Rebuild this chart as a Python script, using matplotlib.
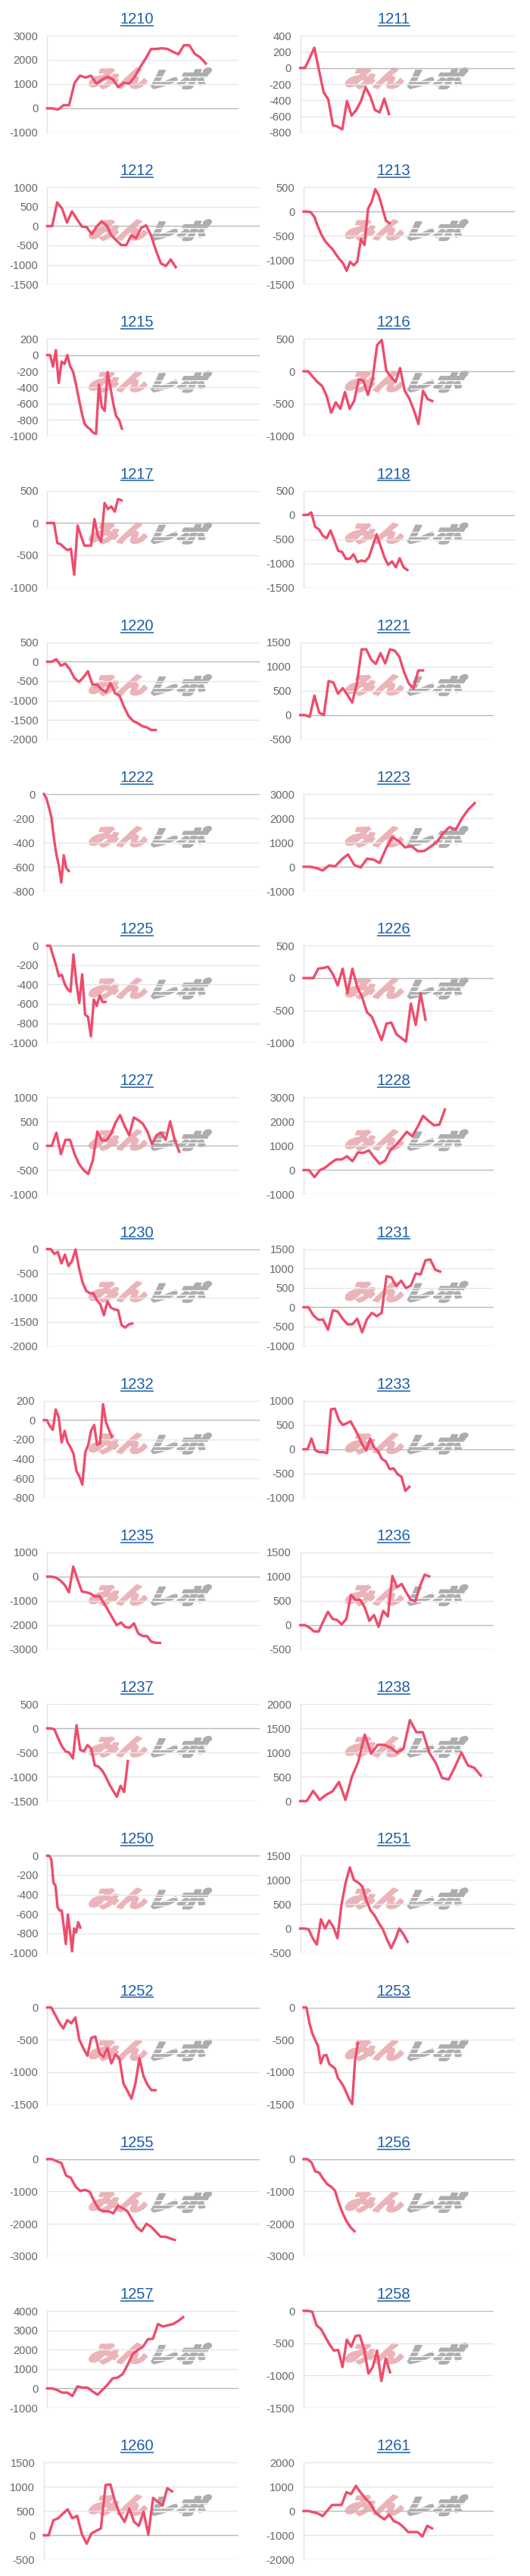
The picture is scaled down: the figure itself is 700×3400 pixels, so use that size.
"""Small-multiples of cumulative balance per machine number (1210-1261)."""
import matplotlib
matplotlib.use("Agg")
import matplotlib.pyplot as plt
from matplotlib.font_manager import FontProperties
from matplotlib.patches import PathPatch
from matplotlib.textpath import TextPath
from matplotlib.transforms import Affine2D

plt.rcParams["font.family"] = ["Liberation Sans", "DejaVu Sans"]
plt.rcParams["axes.unicode_minus"] = False

# ---- data -------------------------------------------------------------
titles = ["1210", "1211", "1212", "1213", "1215", "1216", "1217", "1218",
          "1220", "1221", "1222", "1223", "1225", "1226", "1227", "1228",
          "1230", "1231", "1232", "1233", "1235", "1236", "1237", "1238",
          "1250", "1251", "1252", "1253", "1255", "1256", "1257", "1258",
          "1260", "1261"]

v1210 = [0, 0, -50, 130, 130, 1050, 1350, 1270, 1350, 1020, 1180, 1300, 1200, 880, 1050,
         1020, 1300, 1700, 2050, 2450, 2450, 2480, 2450, 2330, 2230, 2600, 2600, 2250, 2100, 1850]
v1211 = [0, 0, 120, 250, -25, -300, -390, -710, -725, -760, -410, -590, -520, -410, -240,
         -350, -520, -550, -380, -570]
v1212 = [0, 0, 610, 450, 90, 380, 180, -10, -30, -210, -10, 120, 20, -240, -370, -490, -490,
         -240, -310, -50, 20, -240, -630, -960, -1030, -860, -1060]
v1213 = [0, 0, -15, -110, -310, -480, -610, -695, -770, -880, -980, -1065, -1220, -1040, -1110,
         -1030, -570, -690, 60, 200, 460, 330, 70, -190, -240]
v1215 = [0, 0, -140, 60, -345, -80, -110, 0, -140, -205, -360, -540, -710, -850, -890, -920,
         -960, -975, -365, -640, -690, -210, -400, -600, -755, -800, -910]
v1216 = [0, 0, -85, -165, -225, -380, -640, -480, -580, -320, -580, -460, -125, -145, -365,
         -125, 405, 485, 10, -85, -165, 50, -300, -420, -600, -815, -300, -430, -460]
v1217 = [0, 0, 0, -310, -330, -380, -420, -400, -800, -40, -200, -350, -350, -350, 60, -195,
         -290, 310, 215, 255, 175, 370, 350]
v1218 = [0, 0, 50, -245, -300, -430, -480, -320, -530, -740, -765, -905, -905, -815, -975,
         -940, -960, -870, -635, -400, -635, -870, -1030, -960, -1080, -895, -1080, -1135]
v1220 = [0, 0, 65, -100, -50, -195, -420, -520, -405, -245, -585, -585, -715, -780, -550,
         -810, -880, -1170, -1400, -1530, -1580, -1660, -1690, -1760, -1760]
v1221 = [0, 0, -35, 400, 50, 0, 700, 675, 440, 555, 415, 260, 650, 1355, 1355, 1145, 1055,
         1275, 1065, 1355, 1330, 1200, 885, 650, 545, 920, 920]
v1222 = [0, -35, -110, -190, -360, -495, -590, -730, -505, -610, -635]
v1223 = [0, 0, -50, -155, 50, 20, 300, 510, 75, -30, 330, 300, 155, 750, 1220, 1060, 800,
         850, 645, 645, 820, 1010, 1375, 1635, 1530, 2000, 2365, 2625]
v1225 = [0, 0, -105, -200, -315, -300, -395, -450, -475, -90, -380, -590, -295, -710, -735,
         -935, -555, -620, -515, -580, -580]
v1226 = [0, 0, 0, 145, 155, 175, 60, -115, 145, -235, 145, -140, -295, -530, -600, -780,
         -960, -705, -690, -865, -925, -985, -395, -725, -235, -645]
v1227 = [0, 0, 270, -170, 125, 125, -170, -375, -500, -580, -300, 295, 115, 115, 245, 480,
         635, 405, 220, 585, 530, 455, 295, 35, 220, 270, 125, 505, 115, -120]
v1228 = [0, 0, -290, 0, 105, 290, 440, 440, 570, 365, 730, 710, 815, 520, 260, 385, 830,
         1040, 1300, 1580, 1400, 1790, 2240, 2030, 1850, 1875, 2500]
v1230 = [0, 0, -100, -60, -295, -115, -350, -245, -10, -400, -690, -860, -910, -910, -1050,
         -1140, -1365, -1080, -1210, -1245, -1260, -1570, -1620, -1555, -1535]
v1231 = [0, 0, -210, -320, -320, -580, -80, -110, -295, -440, -440, -295, -645, -305, -145,
         -230, -145, 800, 770, 540, 685, 495, 560, 870, 845, 1210, 1230, 965, 920]
v1232 = [0, 0, -60, -100, 110, 30, -230, -110, -230, -280, -345, -525, -580, -665, -330,
         -255, -105, -50, -255, -240, 165, -20, -100, -175]
v1233 = [0, 0, 220, -25, -60, -60, -80, 825, 835, 605, 500, 535, 575, 430, 275, 90, -25, 220,
         35, -40, -200, -250, -410, -395, -515, -565, -860, -775]
v1235 = [0, 0, -40, -155, -335, -645, 415, -125, -615, -645, -700, -825, -800, -1065, -1375,
         -1690, -2000, -1895, -2075, -2105, -1925, -2345, -2450, -2450, -2680, -2730, -2730]
v1236 = [0, 0, -50, -130, -130, 80, 275, 130, 105, 15, 130, 625, 520, 520, 365, 90, 210, -35,
         295, 180, 1015, 780, 850, 675, 520, 495, 810, 1040, 1005]
v1237 = [0, 0, -25, -210, -370, -475, -500, -620, 65, -445, -475, -345, -420, -765, -790,
         -870, -1000, -1160, -1290, -1410, -1185, -1315, -675]
v1238 = [0, 0, 210, 25, 130, 200, 395, 25, 500, 815, 1370, 975, 1160, 1160, 1105, 1000, 1080,
         1670, 1420, 1420, 1000, 790, 475, 445, 710, 1000, 735, 685, 525]
v1250 = [0, 0, -40, -275, -310, -530, -565, -565, -725, -910, -605, -775, -985, -750, -790,
         -685, -740]
v1251 = [0, 0, -15, -200, -330, 190, 0, 165, 35, -200, 505, 950, 1260, 1000, 950, 870, 585,
         375, 270, 115, -15, -225, -405, -225, 0, -120, -275]
v1252 = [0, 0, -115, -235, -325, -195, -245, -155, -500, -630, -745, -470, -450, -705, -765,
         -630, -865, -725, -785, -1175, -1290, -1410, -1175, -785, -1060, -1195, -1280, -1280]
v1253 = [0, 0, -235, -395, -500, -590, -865, -745, -735, -875, -910, -945, -1090, -1150,
         -1220, -1320, -1420, -1495, -820, -550]
v1255 = [0, 0, -65, -120, -510, -575, -850, -985, -950, -1010, -1320, -1560, -1615, -1615,
         -1675, -1440, -1520, -1615, -1875, -2110, -2230, -2000, -2090, -2245, -2400, -2400,
         -2450, -2500]
v1256 = [0, 0, -100, -380, -420, -610, -770, -850, -970, -1360, -1675, -1930, -2110, -2230]
v1257 = [0, 0, -90, -220, -220, -390, 105, 40, 40, -155, -325, -65, 195, 520, 560, 740, 1235,
         1780, 1975, 2145, 2535, 2560, 3320, 3190, 3255, 3320, 3475, 3670]
v1258 = [0, 0, -15, -225, -280, -400, -520, -615, -605, -870, -445, -555, -390, -380, -595,
         -970, -870, -615, -1085, -735, -950]
v1260 = [0, 0, 310, 350, 445, 535, 350, 400, 25, -175, 35, 90, 140, 1035, 1050, 690, 430, 275,
         550, 275, 195, 485, 10, 770, 690, 610, 970, 905]
v1261 = [0, 0, -50, -100, -210, 20, 250, 250, 250, 775, 700, 1040, 760, 515, 315, -30, -210,
         -345, -155, -420, -500, -660, -870, -870, -870, -1050, -610, -715]

values = [v1210, v1211, v1212, v1213, v1215, v1216, v1217, v1218, v1220, v1221, v1222, v1223,
          v1225, v1226, v1227, v1228, v1230, v1231, v1232, v1233, v1235, v1236, v1237, v1238,
          v1250, v1251, v1252, v1253, v1255, v1256, v1257, v1258, v1260, v1261]

# number of x categories on each chart (data only fills the first part)
slots = [36, 47, 44, 60, 75, 47, 64, 56, 48, 42, 88, 31, 74, 40, 43, 36, 61, 40, 74, 55,
         50, 43, 59, 31, 104, 53, 54, 75, 46, 55, 39, 45, 42, 41]

y_lo = [-1000, -800, -1500, -1500, -1000, -1000, -1000, -1500, -2000, -500, -800, -1000,
        -1000, -1000, -1000, -1000, -2000, -1000, -800, -1000, -3000, -500, -1500, 0,
        -1000, -500, -1500, -1500, -3000, -3000, -1000, -1500, -500, -2000]
y_hi = [3000, 400, 1000, 500, 200, 500, 500, 500, 500, 1500, 0, 3000,
        0, 500, 1000, 3000, 0, 1500, 200, 1000, 1000, 1500, 500, 2000,
        0, 1500, 0, 0, 0, 0, 4000, 0, 1500, 2000]
y_step = [1000, 200, 500, 500, 200, 500, 500, 500, 500, 500, 200, 1000,
          200, 500, 500, 1000, 500, 500, 200, 500, 1000, 500, 500, 500,
          200, 500, 500, 500, 1000, 1000, 1000, 500, 500, 1000]

# charts whose plot area ends earlier on the right
narrow = {"1210", "1227", "1257", "1260", "1221", "1223", "1226", "1228", "1231",
          "1236", "1238", "1258", "1261"}

# ---- style ------------------------------------------------------------
W, H = 700, 3400
ROW = 200.2
LINE = "#ee4c6c"
TITLE = "#1b5ea8"
GRID = "#e6e6e6"
ZERO = "#b9b9b9"
BASE = "#d0d0d0"
PINK = "#ebb4b9"
GREY = "#adadad"

logo_font = FontProperties(family="Noto Sans CJK JP", weight="black")


def logo_part(ax, text, x0, x1, y_top, y_bot, color):
    """Slanted, heavy logo text squeezed into a pixel box (y measured from top)."""
    p = TextPath((0, 0), text, size=100, prop=logo_font)
    p = p.transformed(Affine2D().skew_deg(20, 0))
    e = p.get_extents()
    pad = 1.2
    t = (Affine2D().translate(-e.x0, -e.y0)
         .scale((x1 - x0 - 2 * pad) / e.width, (y_bot - y_top - 2 * pad) / e.height)
         .translate(x0 + pad, H - y_bot + pad))
    ax.add_patch(PathPatch(p.transformed(t), fc=color, ec=color, lw=1.8,
                           joinstyle="round", zorder=1))


fig = plt.figure(figsize=(W / 100, H / 100), dpi=100)
bg = fig.add_axes([0, 0, 1, 1], zorder=0)
bg.set_xlim(0, W)
bg.set_ylim(0, H)
bg.axis("off")
renderer = fig.canvas.get_renderer()

for k, name in enumerate(titles):
    row, col = divmod(k, 2)
    r0 = row * ROW
    dx = 338.6 * col
    ticks = list(range(y_lo[k], y_hi[k] + 1, y_step[k]))
    longest = max(len(str(t)) for t in ticks)
    left = (62.4 if longest >= 5 else 58) + dx
    right = (315 if name in narrow else 343) + dx - (1.5 if col else 0)
    top, bot = r0 + 47, r0 + 175

    # watermark logo, with the speed stripes cut through the grey half
    logo_part(bg, "みん", 117 + dx, 195 + dx, r0 + 89, r0 + 118, PINK)
    logo_part(bg, "レポ", 199 + dx, 280 + dx, r0 + 89, r0 + 118, GREY)
    for fy in (0.42, 0.62, 0.8):
        yy = H - (r0 + 89 + fy * 29)
        bg.plot([203 + dx, 282 + dx], [yy, yy], color="white", lw=0.9, zorder=1.5)

    # title with underline
    cx = 181 + 339 * col
    t = fig.text(cx / W, 1 - (r0 + 31) / H, name, ha="center", va="baseline",
                 fontsize=14.5, color=TITLE)
    bb = t.get_window_extent(renderer=renderer)
    bg.plot([bb.x0, bb.x1], [H - (r0 + 33.8)] * 2, color=TITLE, lw=1.1,
            solid_capstyle="butt")

    ax = fig.add_axes([left / W, 1 - bot / H, (right - left) / W, (bot - top) / H],
                      zorder=2)
    ax.set_facecolor("none")
    for tv in ticks:
        if tv == 0:
            c = ZERO
        elif tv == y_lo[k]:
            c = BASE
        else:
            c = GRID
        ax.axhline(tv, color=c, lw=1.0, zorder=1)

    vals = values[k]
    ax.plot(range(len(vals)), vals, color=LINE, lw=2.4, solid_joinstyle="round",
            clip_on=False, zorder=3)

    ax.set_xlim(0, slots[k] - 1)
    ax.set_ylim(y_lo[k], y_hi[k])
    ax.set_xticks([])
    ax.set_yticks(ticks)
    ax.set_yticklabels([str(tv) for tv in ticks])
    ax.tick_params(axis="y", length=0, pad=8.5, labelsize=10.5, labelcolor="#666666")
    for s in ("top", "right", "bottom"):
        ax.spines[s].set_visible(False)
    ax.spines["left"].set_color("#e2e2e2")
    ax.spines["left"].set_linewidth(1.0)

fig.savefig("out.png", dpi=100)
